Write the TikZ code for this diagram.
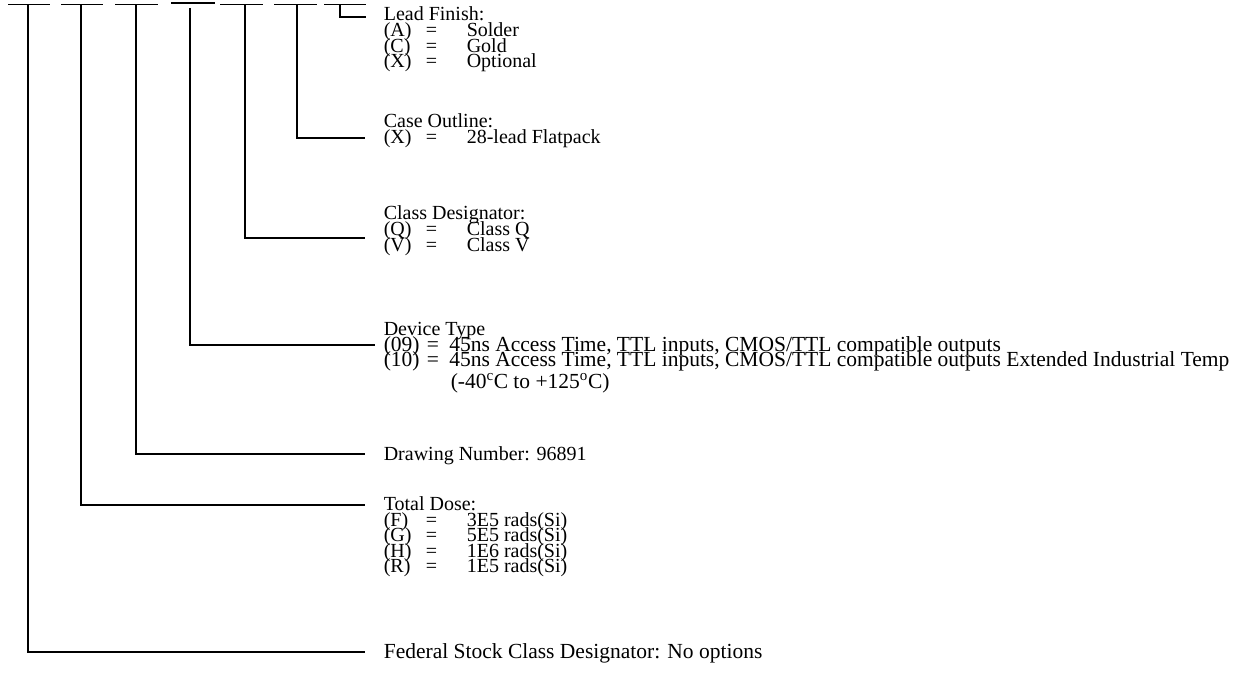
\documentclass[tikz,border=0pt]{standalone}
\usepackage{fontspec}
\setmainfont{Liberation Serif}
\newcommand{\optrow}[3]{\makebox[2.1em][l]{#1}\makebox[2.05em][l]{#2}#3}
\newcommand{\devrow}[3]{\makebox[2.0em][l]{#1}\makebox[1.05em][l]{#2}#3}
\begin{document}
\begin{tikzpicture}[x=1pt,y=-1pt,line width=1.6pt,
  lbl/.style={anchor=base west,inner sep=0pt,font=\fontsize{20}{16}\selectfont},
  wide/.style={lbl,font=\fontsize{21.5}{16}\selectfont},
  blank/.style={line width=1.6pt},
  leader/.style={line width=1.6pt}]
\useasboundingbox (0,0) rectangle (1242,687);
% blanks
\coordinate (t1) at (28,4.5);
\coordinate (t2) at (81,4.5);
\coordinate (t3) at (136,4.5);
\coordinate (t4) at (190,8);
\coordinate (t5) at (245,4.5);
\coordinate (t6) at (297,4.5);
\coordinate (t7) at (340,4.5);
\draw[blank] (8,4.5) -- (50,4.5);
\draw[blank] (61,4.5) -- (103,4.5);
\draw[blank] (115,4.5) -- (158,4.5);
\draw[blank] (171,3) -- (215,3);
\draw[blank] (220,4.5) -- (263,4.5);
\draw[blank] (274,4.5) -- (317,4.5);
\draw[blank] (324,4.5) -- (366,4.5);
% leader ends
\coordinate (e1) at (365,652);
\coordinate (e2) at (365,505);
\coordinate (e3) at (365,454);
\coordinate (e4) at (375,345);
\coordinate (e5) at (365,238);
\coordinate (e6) at (365,138);
\coordinate (e7) at (366,17);
\draw[leader] (t1) |- (e1);
\draw[leader] (t2) |- (e2);
\draw[leader] (t3) |- (e3);
\draw[leader] (t4) |- (e4);
\draw[leader] (t5) |- (e5);
\draw[leader] (t6) |- (e6);
\draw[leader] (t7) |- (e7);
% Lead finish
\node[lbl] (lf)  at (383,21) {Lead Finish:};
\node[lbl] (lfa) at (383,37) {\optrow{(A)}{=}{Solder}};
\node[lbl] (lfc) at (383,52.5) {\optrow{(C)}{=}{Gold}};
\node[lbl] (lfx) at (383,68) {\optrow{(X)}{=}{Optional}};
% Case outline
\node[lbl] (co)  at (383,128) {Case Outline:};
\node[lbl] (cox) at (383,144) {\optrow{(X)}{=}{28-lead Flatpack}};
% Class designator
\node[lbl] (cd)  at (383,220) {Class Designator:};
\node[lbl] (cdq) at (383,236) {\optrow{(Q)}{=}{Class Q}};
\node[lbl] (cdv) at (383,251.5) {\optrow{(V)}{=}{Class V}};
% Device type
\node[lbl] (dt)   at (383,335) {Device Type};
\node[wide] (dt09) at (383,351) {\devrow{(09)}{=}{45ns Access Time, TTL inputs, CMOS/TTL compatible outputs}};
\node[wide] (dt10) at (383,366.5) {\devrow{(10)}{=}{45ns Access Time, TTL inputs, CMOS/TTL compatible outputs Extended Industrial Temp}};
\node[wide] (dtt)  at (450,388) {(-40\textsuperscript{c}C to +125\textsuperscript{o}C)};
% Drawing number
\node[lbl] (dn) at (383,460) {Drawing Number: 96891};
% Total dose
\node[lbl] (td)  at (383,510) {Total Dose:};
\node[lbl] (tdf) at (383,526) {\optrow{(F)}{=}{3E5 rads(Si)}};
\node[lbl] (tdg) at (383,541.5) {\optrow{(G)}{=}{5E5 rads(Si)}};
\node[lbl] (tdh) at (383,557) {\optrow{(H)}{=}{1E6 rads(Si)}};
\node[lbl] (tdr) at (383,572.5) {\optrow{(R)}{=}{1E5 rads(Si)}};
% Federal
\node[wide] (fs) at (383,658) {Federal Stock Class Designator: No options};
\end{tikzpicture}
\end{document}
